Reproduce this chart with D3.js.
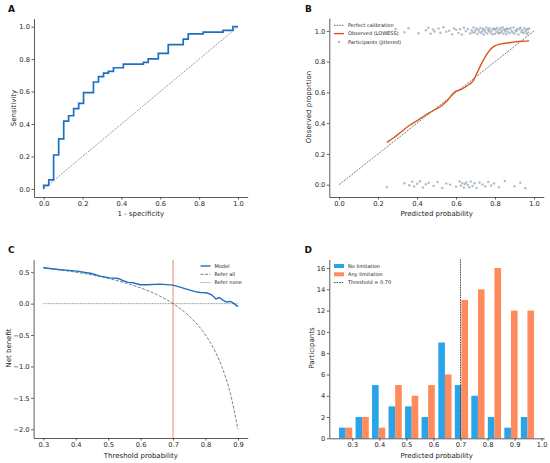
<!DOCTYPE html>
<html>
<head>
<meta charset="utf-8">
<script src="https://cdn.jsdelivr.net/npm/d3@7"></script>
<style>
  body { margin: 0; background: #fff; }
  svg { display: block; font-family: "DejaVu Sans", sans-serif; }
  .tick text { fill: #222; }
  .domain, .tick line { stroke: #333; stroke-width: 0.8; }
</style>
</head>
<body>
<svg width="550" height="463"></svg>
<script>
// A: ROC curve corners (fpr, tpr)
const rocFpr = [0, 0, 0.026, 0.051, 0.077, 0.103, 0.128, 0.154, 0.180, 0.205, 0.256, 0.282, 0.308, 0.333, 0.359, 0.410, 0.513, 0.538, 0.590, 0.641, 0.718, 0.744, 0.821, 0.923, 0.974, 1.0];
const rocTpr = [0, 0.022, 0.055, 0.209, 0.308, 0.418, 0.451, 0.495, 0.527, 0.593, 0.659, 0.692, 0.714, 0.725, 0.747, 0.769, 0.780, 0.802, 0.835, 0.890, 0.923, 0.956, 0.967, 0.978, 1.0, 1.0];

// B: LOWESS calibration curve
const calX = [0.245, 0.28, 0.321, 0.36, 0.407, 0.44, 0.475, 0.50, 0.526, 0.545, 0.561, 0.575, 0.586, 0.60, 0.612, 0.63, 0.646, 0.665, 0.68, 0.69, 0.697, 0.71, 0.723, 0.736, 0.749, 0.762, 0.774, 0.787, 0.80, 0.817, 0.834, 0.87, 0.903, 0.94, 0.975];
const calY = [0.275, 0.305, 0.346, 0.385, 0.422, 0.45, 0.476, 0.494, 0.513, 0.535, 0.556, 0.578, 0.595, 0.608, 0.613, 0.622, 0.634, 0.65, 0.665, 0.68, 0.699, 0.733, 0.768, 0.80, 0.829, 0.855, 0.877, 0.893, 0.903, 0.911, 0.916, 0.923, 0.929, 0.933, 0.935];

// B: participants, predicted probability and vertical jitter
const posPred = [0.29, 0.335, 0.356, 0.407, 0.445, 0.458, 0.47, 0.482, 0.49, 0.51, 0.52, 0.535, 0.55,
  0.565, 0.58, 0.59, 0.60, 0.612, 0.62, 0.63, 0.64, 0.65, 0.66, 0.672,
  0.68, 0.685, 0.69, 0.695, 0.70, 0.705, 0.71, 0.715, 0.72, 0.725, 0.73, 0.735, 0.738,
  0.742, 0.746, 0.75, 0.755, 0.76, 0.764, 0.768, 0.772, 0.777, 0.782, 0.787, 0.791, 0.795, 0.799,
  0.803, 0.807, 0.811, 0.815, 0.819, 0.823, 0.827, 0.831, 0.835, 0.839, 0.843, 0.847, 0.851, 0.855, 0.858, 0.861,
  0.865, 0.87, 0.875, 0.88, 0.885, 0.89, 0.895, 0.9, 0.905, 0.91, 0.915, 0.92,
  0.926, 0.93, 0.935, 0.94, 0.945, 0.95, 0.955, 0.96, 0.963, 0.967, 0.97, 0.975];
const posJitter = [0.012, -0.008, 0.018, -0.015, 0.004, 0.021, -0.019, 0.009, -0.003, 0.015,
  -0.012, 0.024, -0.006, 0.001, -0.021, 0.017, 0.007, -0.014, 0.011, -0.024,
  0.02, -0.002, 0.013, -0.017, 0.005, -0.009, 0.022, -0.011, 0.003, 0.016,
  -0.02, 0.008, -0.005, 0.019, -0.013, 0.0, 0.014, -0.023, 0.006, -0.007,
  0.023, -0.016, 0.01, -0.001, 0.018, -0.01, 0.002, -0.022, 0.015, 0.009,
  -0.018, 0.012, -0.004, 0.021, -0.012, 0.006, -0.015, 0.017, -0.008, 0.003,
  0.024, -0.019, 0.011, -0.003, 0.008, -0.021, 0.016, -0.006, 0.013, -0.014,
  0.019, 0.001, -0.01, 0.022, -0.017, 0.005, -0.002, 0.014, -0.024, 0.01,
  0.02, -0.009, 0.004, -0.013, 0.018, -0.005, 0.007, -0.02, 0.012, -0.011, 0.015];
const negPred = [0.245, 0.335, 0.36, 0.375, 0.385, 0.40, 0.415, 0.43, 0.445, 0.46, 0.485, 0.505, 0.53, 0.55,
  0.57, 0.60, 0.618, 0.625, 0.632, 0.64, 0.645, 0.652, 0.66, 0.668, 0.675,
  0.685, 0.695, 0.705, 0.72, 0.735, 0.75, 0.765, 0.78, 0.795, 0.82, 0.85, 0.9, 0.93, 0.955];
const negJitter = [-0.015, 0.01, -0.004, 0.019, -0.011, 0.006, 0.022, -0.018, 0.003, 0.013,
  -0.008, 0.017, -0.022, 0.008, 0.0, -0.013, 0.02, -0.006, 0.011, -0.019,
  0.005, 0.015, -0.002, -0.016, 0.021, -0.009, 0.009, -0.021, 0.014, 0.002,
  -0.012, 0.018, -0.005, 0.007, -0.017, 0.024, -0.01, 0.012, -0.023];

// C: decision curve
const dcaX = [0.30, 0.346, 0.403, 0.449, 0.475, 0.505, 0.531, 0.546, 0.562, 0.577, 0.598, 0.618, 0.66, 0.70, 0.716, 0.752, 0.768, 0.783, 0.803, 0.819, 0.832, 0.843, 0.855, 0.865, 0.877, 0.888, 0.90];
const dcaModel = [0.57, 0.543, 0.517, 0.48, 0.438, 0.41, 0.40, 0.364, 0.338, 0.332, 0.30, 0.30, 0.31, 0.295, 0.27, 0.215, 0.19, 0.178, 0.172, 0.14, 0.075, 0.095, 0.05, 0.025, 0.035, 0.0, -0.047];
const allX = [0.30, 0.35, 0.40, 0.45, 0.50, 0.55, 0.60, 0.65, 0.70, 0.725, 0.75, 0.775, 0.80, 0.825, 0.85, 0.875, 0.90];
const allY = [0.571, 0.538, 0.50, 0.455, 0.40, 0.333, 0.25, 0.143, 0.0, -0.091, -0.20, -0.333, -0.50, -0.714, -1.0, -1.40, -2.0];
const threshold = 0.70;

// D: histogram of predicted probability
const binLeft = [0.251, 0.312, 0.373, 0.434, 0.495, 0.556, 0.618, 0.679, 0.740, 0.801, 0.862, 0.923];
const binWidth = 0.0611;
const noLimitation = [1, 2, 5, 3, 3, 2, 9, 5, 4, 2, 1, 2];
const anyLimitation = [1, 2, 1, 5, 4, 5, 6, 13, 14, 16, 12, 12];

const blue = "#1f6fbf";
const orangeLine = "#d9541a";
const barBlue = "#2aa4e8";
const barOrange = "#ff8a5c";
const slate = "#5d7394";

const svg = d3.select("svg");
const fmt1 = d3.format(".1f");

function axes(g, x, y, xTicks, yTicks, xFmt, yFmt) {
  g.append("g")
    .attr("transform", `translate(0,${y.range()[0]})`)
    .call(d3.axisBottom(x).tickValues(xTicks).tickFormat(xFmt).tickSize(2.5).tickSizeOuter(0).tickPadding(1.5))
    .call(a => a.selectAll("text").attr("font-size", 6.7).attr("font-family", "DejaVu Sans"));
  g.append("g")
    .attr("transform", `translate(${x.range()[0]},0)`)
    .call(d3.axisLeft(y).tickValues(yTicks).tickFormat(yFmt).tickSize(2.5).tickSizeOuter(0).tickPadding(1.5))
    .call(a => a.selectAll("text").attr("font-size", 6.7).attr("font-family", "DejaVu Sans"));
}

function labels(letter, lx, ly, xText, xx, xy, yText, yx, yy) {
  svg.append("text").attr("x", lx).attr("y", ly).attr("font-size", 9).attr("font-weight", "bold").attr("fill", "#111").text(letter);
  svg.append("text").attr("x", xx).attr("y", xy).attr("font-size", 7).attr("text-anchor", "middle").attr("fill", "#222").text(xText);
  svg.append("text").attr("transform", `translate(${yx},${yy}) rotate(-90)`).attr("font-size", 7).attr("text-anchor", "middle").attr("fill", "#222").text(yText);
}

function legend(g, x0, y0, rows) {
  rows.forEach((r, i) => {
    const yy = y0 + i * 8.3;
    if (r.type === "line") {
      g.append("line").attr("x1", x0).attr("x2", x0 + 10).attr("y1", yy).attr("y2", yy)
        .attr("stroke", r.color).attr("stroke-width", r.width).attr("stroke-dasharray", r.dash || null);
    } else if (r.type === "dot") {
      g.append("circle").attr("cx", x0 + 5).attr("cy", yy).attr("r", 1.2).attr("fill", r.color).attr("opacity", 0.6);
    } else {
      g.append("rect").attr("x", x0).attr("y", yy - 2).attr("width", 10).attr("height", 4).attr("fill", r.color);
    }
    g.append("text").attr("x", x0 + 14).attr("y", yy + 1.8).attr("font-size", 5).attr("fill", "#222").text(r.label);
  });
}

// ---- A: ROC ----
{
  const g = svg.append("g");
  const x = d3.scaleLinear().domain([-0.05, 1.05]).range([34, 247.7]);
  const y = d3.scaleLinear().domain([-0.05, 1.05]).range([197, 18.6]);
  g.append("line").attr("x1", x(0)).attr("y1", y(0)).attr("x2", x(1)).attr("y2", y(1))
    .attr("stroke", "#555").attr("stroke-width", 0.6).attr("stroke-dasharray", "2,1.2");
  const pts = rocFpr.map((f, i) => [f, rocTpr[i]]);
  g.append("path").datum(pts)
    .attr("d", d3.line().x(d => x(d[0])).y(d => y(d[1])).curve(d3.curveStepAfter))
    .attr("fill", "none").attr("stroke", blue).attr("stroke-width", 1.7);
  const t = [0, 0.2, 0.4, 0.6, 0.8, 1.0];
  axes(g, x, y, t, t, fmt1, fmt1);
  labels("A", 8, 12.3, "1 - specificity", 140.8, 215.5, "Sensitivity", 15.5, 108);
}

// ---- B: calibration ----
{
  const g = svg.append("g");
  const x = d3.scaleLinear().domain([-0.05, 1.05]).range([329.3, 543.8]);
  const y = d3.scaleLinear().domain([-0.08, 1.084]).range([197, 18]);
  g.append("line").attr("x1", x(0)).attr("y1", y(0)).attr("x2", x(1)).attr("y2", y(1))
    .attr("stroke", "#222").attr("stroke-width", 0.6).attr("stroke-dasharray", "2,1.2");
  const dots = posPred.map((p, i) => [p, 1 + posJitter[i]])
    .concat(negPred.map((p, i) => [p, negJitter[i]]));
  g.selectAll(".pt").data(dots).enter().append("circle")
    .attr("cx", d => x(d[0])).attr("cy", d => y(d[1])).attr("r", 1.25)
    .attr("fill", "#7689a2").attr("opacity", 0.55);
  g.append("path").datum(calX.map((c, i) => [c, calY[i]]))
    .attr("d", d3.line().x(d => x(d[0])).y(d => y(d[1])).curve(d3.curveMonotoneX))
    .attr("fill", "none").attr("stroke", orangeLine).attr("stroke-width", 1.4);
  const t = [0, 0.2, 0.4, 0.6, 0.8, 1.0];
  axes(g, x, y, t, t, fmt1, fmt1);
  legend(g, 334, 25.3, [
    { type: "line", color: "#222", width: 0.7, dash: "1.6,1", label: "Perfect calibration" },
    { type: "line", color: orangeLine, width: 1.4, label: "Observed (LOWESS)" },
    { type: "dot", color: "#7689a2", label: "Participants (jittered)" },
  ]);
  labels("B", 305, 12.3, "Predicted probability", 436.7, 215.5, "Observed proportion", 310.5, 107);
}

// ---- C: decision curve ----
{
  const g = svg.append("g");
  const x = d3.scaleLinear().domain([0.27, 0.93]).range([33.6, 247.7]);
  const y = d3.scaleLinear().domain([-2.139, 0.699]).range([438, 259.7]);
  g.append("line").attr("x1", x(threshold)).attr("x2", x(threshold)).attr("y1", y.range()[0]).attr("y2", y.range()[1])
    .attr("stroke", "#f5b49a").attr("stroke-width", 1.6);
  g.append("line").attr("x1", x(0.3)).attr("x2", x(0.9)).attr("y1", y(0)).attr("y2", y(0))
    .attr("stroke", "#666").attr("stroke-width", 0.8).attr("stroke-dasharray", "0.8,0.8");
  g.append("path").datum(allX.map((a, i) => [a, allY[i]]))
    .attr("d", d3.line().x(d => x(d[0])).y(d => y(d[1])).curve(d3.curveMonotoneX))
    .attr("fill", "none").attr("stroke", slate).attr("stroke-width", 0.9).attr("stroke-dasharray", "3,1.6");
  g.append("path").datum(dcaX.map((a, i) => [a, dcaModel[i]]))
    .attr("d", d3.line().x(d => x(d[0])).y(d => y(d[1])))
    .attr("fill", "none").attr("stroke", blue).attr("stroke-width", 1.4);
  axes(g, x, y, [0.3, 0.4, 0.5, 0.6, 0.7, 0.8, 0.9], [0.5, 0, -0.5, -1.0, -1.5, -2.0], fmt1, fmt1);
  legend(g, 200.5, 266, [
    { type: "line", color: blue, width: 1.4, label: "Model" },
    { type: "line", color: slate, width: 0.9, dash: "3,1.6", label: "Refer all" },
    { type: "line", color: "#666", width: 0.8, dash: "0.8,0.8", label: "Refer none" },
  ]);
  labels("C", 8, 252.7, "Threshold probability", 140.8, 458, "Net benefit", 10.5, 348);
}

// ---- D: histogram ----
{
  const g = svg.append("g");
  const x = d3.scaleLinear().domain([0.215, 1.009]).range([329.3, 544.1]);
  const y = d3.scaleLinear().domain([0, 16.8]).range([438.3, 259.5]);
  g.selectAll(".nb").data(noLimitation).enter().append("rect")
    .attr("x", (d, i) => x(binLeft[i]))
    .attr("width", (d, i) => x(binLeft[i] + binWidth * 0.4) - x(binLeft[i]))
    .attr("y", d => y(d)).attr("height", d => y(0) - y(d))
    .attr("fill", barBlue);
  g.selectAll(".ab").data(anyLimitation).enter().append("rect")
    .attr("x", (d, i) => x(binLeft[i] + binWidth * 0.4))
    .attr("width", (d, i) => x(binLeft[i] + binWidth * 0.8) - x(binLeft[i] + binWidth * 0.4))
    .attr("y", d => y(d)).attr("height", d => y(0) - y(d))
    .attr("fill", barOrange);
  g.append("line").attr("x1", x(threshold)).attr("x2", x(threshold)).attr("y1", y.range()[0]).attr("y2", y.range()[1])
    .attr("stroke", "#333").attr("stroke-width", 0.9).attr("stroke-dasharray", "1.6,0.9");
  axes(g, x, y, [0.3, 0.4, 0.5, 0.6, 0.7, 0.8, 0.9, 1.0], d3.range(0, 17, 2), fmt1, d3.format("d"));
  legend(g, 334, 266, [
    { type: "rect", color: barBlue, label: "No limitation" },
    { type: "rect", color: barOrange, label: "Any limitation" },
    { type: "line", color: "#333", width: 0.9, dash: "1.6,0.9", label: "Threshold = 0.70" },
  ]);
  labels("D", 304.5, 252.7, "Predicted probability", 436.7, 458, "Participants", 314, 348);
}
</script>
</body>
</html>
